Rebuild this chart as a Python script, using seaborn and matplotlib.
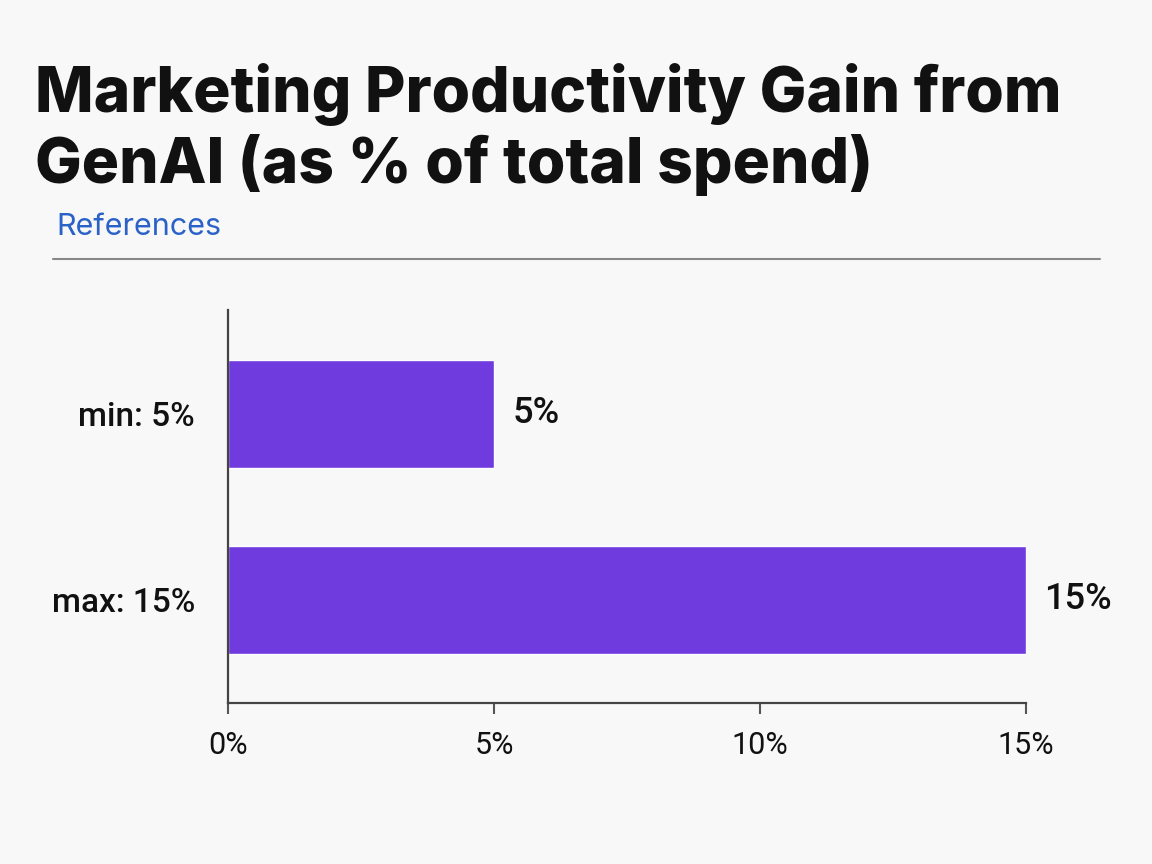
import matplotlib
matplotlib.use("Agg")
import matplotlib.pyplot as plt
import seaborn as sns
import pandas as pd

categories = ["min: 5%", "max: 15%"]
values = [5, 15]
value_labels = ["5%", "15%"]
xticks = [0, 5, 10, 15]
xtick_labels = ["0%", "5%", "10%", "15%"]
title_lines = ["Marketing Productivity Gain from", "GenAI (as % of total spend)"]
subtitle = "References"

sns.set_theme(style="white")
plt.rcParams["font.family"] = ["Inter", "DejaVu Sans"]

bg = "#f8f8f8"
fig = plt.figure(figsize=(11.52, 8.64), dpi=100, facecolor=bg)
ax = fig.add_axes([0.198, 0.1863, 0.6927, 0.4549], facecolor=bg)

df = pd.DataFrame({"cat": categories, "val": values})
sns.barplot(data=df, x="val", y="cat", color="#6f3ade", saturation=1, width=0.58, ax=ax)

ax.set_xlim(0, 15)
ax.set_ylim(1.554, -0.559)
ax.set_xticks(xticks)
ax.set_xticklabels(xtick_labels, fontsize=22, family=["Roboto", "DejaVu Sans"])
ax.set_yticks(range(len(categories)))
ax.set_yticklabels(categories, fontsize=24, fontweight="medium", family=["Roboto", "DejaVu Sans"])
ax.set_xlabel("")
ax.set_ylabel("")
ax.tick_params(axis="x", bottom=True, direction="out", length=8, width=1.5,
               color="#555555", pad=12, labelcolor="#111111")
ax.tick_params(axis="y", left=False, length=0, pad=24, labelcolor="#111111")
for s in ["top", "right"]:
    ax.spines[s].set_visible(False)
for s in ["left", "bottom"]:
    ax.spines[s].set_color("#444444")
    ax.spines[s].set_linewidth(1.6)

for i, (v, lab) in enumerate(zip(values, value_labels)):
    ax.annotate(lab, xy=(v, i), xytext=(13, 0), textcoords="offset points",
                va="center", ha="left", fontsize=26, fontweight="medium",
                family=["Roboto", "DejaVu Sans"], color="#111111")

H = 864.0
fig.text(0.030, 1 - 112 / H, title_lines[0], fontsize=44.8, fontweight="heavy",
         color="#111111", va="baseline", ha="left")
fig.text(0.030, 1 - 183 / H, title_lines[1], fontsize=44.8, fontweight="heavy",
         color="#111111", va="baseline", ha="left")
fig.text(0.049, 1 - 227 / H, subtitle, fontsize=22, color="#2a62c8", va="center", ha="left")
fig.add_artist(plt.Line2D([0.046, 0.955], [1 - 259 / H, 1 - 259 / H], color="#888888", lw=1.5))

fig.savefig("out.png", dpi=100, facecolor=bg)
